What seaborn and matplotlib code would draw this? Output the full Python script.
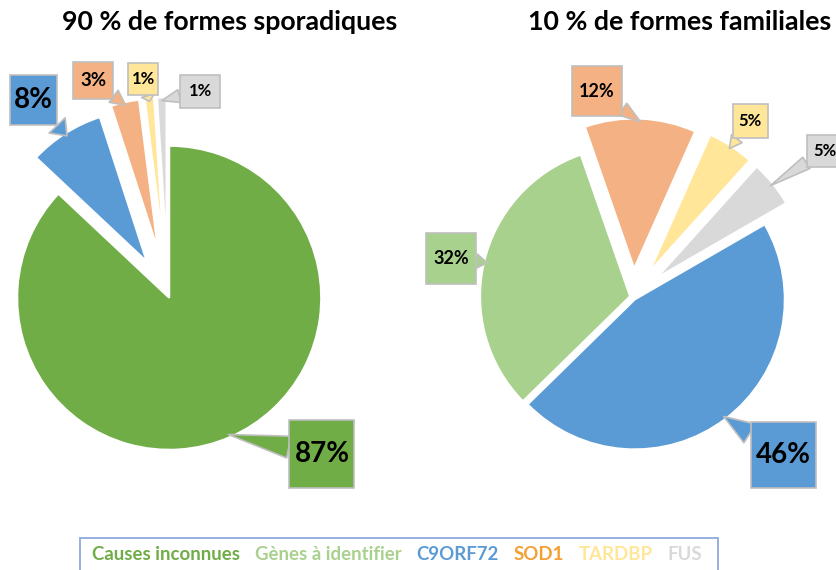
import matplotlib
matplotlib.use('Agg')
import matplotlib.pyplot as plt
import seaborn as sns
import numpy as np
from matplotlib.patches import Patch, Rectangle
from matplotlib.path import Path

# categories (legend order) and shares in %
categories = ['Causes inconnues', 'Gènes à identifier', 'C9ORF72', 'SOD1', 'TARDBP', 'FUS']
sporadic = [87, 0, 8, 3, 1, 1]
familial = [0, 32, 46, 12, 5, 5]

slice_colors = ['#70AD47', '#A9D18E', '#5B9BD5', '#F4B183', '#FFE699', '#D9D9D9']
legend_colors = ['#70AD47', '#A9D18E', '#5B9BD5', '#F4A033', '#FFE699', '#D9D9D9']

sns.set_theme(style='white')
plt.rcParams['font.family'] = ['Lato', 'DejaVu Sans']

W, H = 836, 570
fig = plt.figure(figsize=(W / 100, H / 100), dpi=100)


def callout_box(w, h):
    # fixed size label box (pixels), centred on the text
    def box(x0, y0, width, height, mutation_size):
        cx, cy = x0 + width / 2, y0 + height / 2
        return Path([(cx - w / 2, cy - h / 2), (cx + w / 2, cy - h / 2),
                     (cx + w / 2, cy + h / 2), (cx - w / 2, cy + h / 2),
                     (cx - w / 2, cy - h / 2)], closed=True)
    return box


def make_axes(cx, cy, s, x0, x1, y0, y1):
    ax = fig.add_axes([x0 / W, 1 - y1 / H, (x1 - x0) / W, (y1 - y0) / H])
    return ax, ((x0 - cx) / s, (x1 - cx) / s), ((cy - y1) / s, (cy - y0) / s)


def draw_pie(ax, xlim, ylim, order, values, explode, startangle, labels):
    vals = [values[i] for i in order]
    cols = [slice_colors[i] for i in order]
    wedges, _ = ax.pie(vals, colors=cols, explode=explode, startangle=startangle,
                       counterclock=False, radius=1.0,
                       wedgeprops=dict(edgecolor='white', linewidth=1.5))
    for w, v, c, (pos, fs, bw, bh) in zip(wedges, vals, cols, labels):
        mid = np.deg2rad((w.theta1 + w.theta2) / 2)
        tip = (w.center[0] + 0.98 * w.r * np.cos(mid), w.center[1] + 0.98 * w.r * np.sin(mid))
        ax.annotate(f'{v}%', xy=tip, xytext=pos, ha='center', va='center',
                    fontsize=fs, fontweight='bold', color='black',
                    bbox=dict(boxstyle=callout_box(bw, bh), fc=c, ec='#BFBFBF', lw=1.2),
                    arrowprops=dict(arrowstyle='wedge,tail_width=0.8,shrink_factor=0.5',
                                    fc=c, ec='#BFBFBF', lw=1.2, shrinkA=0, shrinkB=0))
    ax.set_xlim(*xlim)
    ax.set_ylim(*ylim)
    ax.set_aspect('auto')
    ax.axis('off')


# left pie: sporadic forms
axL, xl, yl = make_axes(168, 295, 152, 0, 415, 40, 530)
draw_pie(axL, xl, yl, [0, 2, 3, 4, 5], sporadic,
         explode=[0.02, 0.26, 0.3, 0.3, 0.3], startangle=90,
         labels=[((1.013, -1.046), 20, 65, 68),
                 ((-0.888, 1.283), 20, 47, 50),
                 ((-0.493, 1.408), 13.5, 40, 37),
                 ((-0.164, 1.421), 12, 30, 32),
                 ((0.211, 1.342), 12, 40, 33)])

# right pie: familial forms
axR, xr, yr = make_axes(633, 297, 150, 415, 836, 40, 530)
draw_pie(axR, xr, yr, [2, 1, 3, 4, 5], familial,
         explode=[0.02, 0.02, 0.19, 0.2, 0.2], startangle=30,
         labels=[((1.0, -1.053), 20, 65, 66),
                 ((-1.213, 0.26), 13, 50, 51),
                 ((-0.24, 1.373), 13, 50, 50),
                 ((0.78, 1.173), 12, 35, 34),
                 ((1.28, 0.973), 12, 36, 32)])

fig.text(230 / W, 1 - 22 / H, '90 % de formes sporadiques', ha='center', va='center',
         fontsize=19.3, fontweight='bold', color='black')
fig.text(528 / W, 1 - 22 / H, '10 % de formes familiales', ha='left', va='center',
         fontsize=19.3, fontweight='bold', color='black')

# legend: coloured text only, inside a thin frame
handles = [Patch(visible=False) for _ in categories]
fig.legend(handles, categories, loc='center left', bbox_to_anchor=(92 / W, 1 - 555 / H),
           ncol=6, handlelength=0, handletextpad=0, columnspacing=0.8, borderpad=0,
           borderaxespad=0, labelcolor=legend_colors, frameon=False,
           prop=dict(weight='bold', size=13.4, family=['Lato', 'DejaVu Sans']))
fig.patches.append(Rectangle((80 / W, -0.02), 638 / W, (570 - 538) / H + 0.02,
                             transform=fig.transFigure, fill=False,
                             ec='#8EA9DB', lw=1.3))

fig.savefig('out.png', dpi=100)
